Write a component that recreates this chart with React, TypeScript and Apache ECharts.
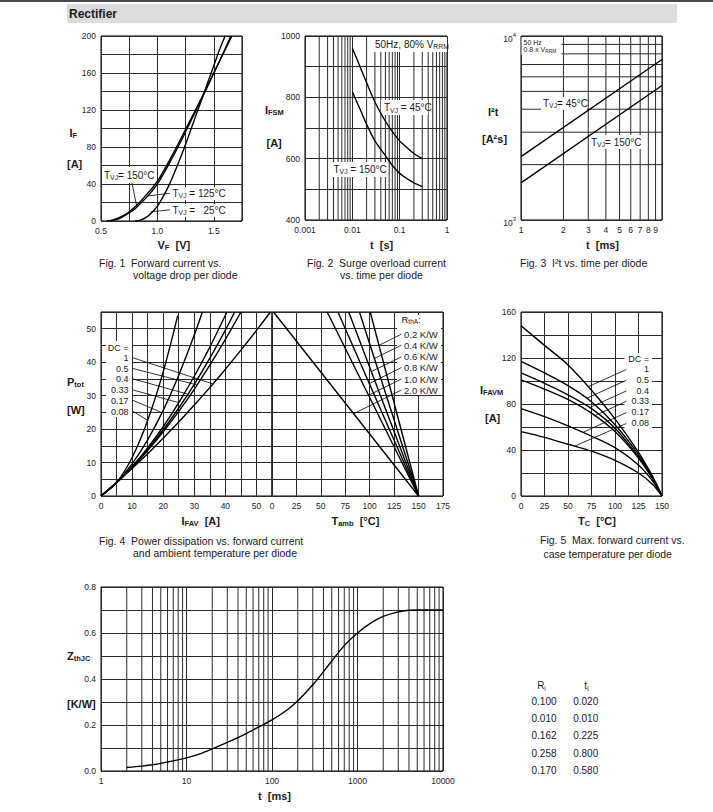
import React, { useEffect, useRef } from 'react';
import * as echarts from 'echarts';

const FONT = '"Liberation Sans", Arial, Helvetica, sans-serif';
const INK = '#1a1a1a';
const GRID = '#2a2a2a';
const NB = '\u00a0';

// ---------- Fig 1: forward current vs. voltage drop ----------
const f1T150 = [[0.55,0],[0.6,1],[0.65,3],[0.7,6],[0.75,10],[0.8,15],[0.85,21],[0.9,28],[0.95,35],[1.0,43],[1.1,64],[1.2,87],[1.3,111],[1.4,135],[1.5,160],[1.6,185],[1.66,200]];
const f1T125 = [[0.58,0],[0.65,2],[0.7,5],[0.75,9],[0.8,13],[0.85,19],[0.9,25],[0.95,32],[1.0,40],[1.1,61],[1.2,84],[1.3,109],[1.4,134],[1.5,160],[1.6,186],[1.65,200]];
const f1T25 = [[0.8,0],[0.85,1],[0.9,4],[0.95,9],[1.0,16],[1.05,26],[1.1,38],[1.15,52],[1.2,67],[1.25,83],[1.3,100],[1.35,117],[1.4,134],[1.45,151],[1.5,168],[1.55,185],[1.6,200]];
const f1Leaders = [
  [[0.775, 41], [0.815, 17]],
  [[1.11, 30], [0.915, 27]],
  [[1.11, 12], [0.94, 10]],
];

// ---------- Fig 2: surge overload current ----------
const f2T45 = [[0.01,960],[0.015,895],[0.02,848],[0.03,785],[0.05,722],[0.07,688],[0.1,658],[0.15,633],[0.2,617],[0.3,600]];
const f2T150 = [[0.01,818],[0.015,757],[0.02,712],[0.03,658],[0.05,610],[0.07,578],[0.1,552],[0.15,533],[0.2,521],[0.3,509]];
const f2MinorT = [0.002,0.003,0.004,0.005,0.006,0.007,0.008,0.009,0.02,0.03,0.04,0.05,0.06,0.07,0.08,0.09,0.2,0.3,0.4,0.5,0.6,0.7,0.8,0.9];

// ---------- Fig 3: I2t vs. time ----------
const f3T45 = [[1,2210],[10,7450]];
const f3T150 = [[1,1590],[10,5380]];
const f3MinorT = [2,3,4,5,6,7,8,9];
const f3MinorI = [2000,3000,4000,5000,6000,7000,8000,9000];
const f3TickLabels = [1,2,3,4,5,6,7,8,9];

// ---------- Fig 4: power dissipation ----------
const f4DutyLabels = ['1','0.5','0.4','0.33','0.17','0.08'];
const f4Ptot = [
  [[0,0],[5,4],[10,8.2],[15,12.6],[20,17.3],[25,22.1],[30,27.2],[35,32.4],[40,37.9],[45,43.6],[50,49.5],[54.5,55]],
  [[0,0],[5,4],[10,8.5],[15,13.6],[20,19.2],[25,25.3],[30,31.9],[35,39.1],[40,46.8],[45,55]],
  [[0,0],[5,4],[10,8.6],[15,13.9],[20,19.8],[25,26.3],[30,33.4],[35,41.2],[40,49.6],[43,55]],
  [[0,0],[5,4],[10,8.8],[15,14.4],[20,20.7],[25,27.9],[30,35.8],[35,44.5],[40.5,55]],
  [[0,0],[5,4],[10,9.6],[15,16.8],[20,25.6],[25,36.1],[30,48.1],[32.6,55]],
  [[0,0],[5,4],[10,11.5],[15,22.6],[20,37.1],[24.7,54]],
];
const f4DutyLeaders = [
  [[10.3,41.3],[36,33.5]],
  [[10.3,38.1],[30.9,33.2]],
  [[10.3,35.0],[27.7,30.5]],
  [[10.3,31.7],[25,27.9]],
  [[10.3,28.6],[19.6,24.9]],
  [[10.3,25.3],[15,22.6]],
];
const f4RthLabels = ['0.2 K/W','0.4 K/W','0.6 K/W','0.8 K/W','1.0 K/W','2.0 K/W'];
const f4RthLines = [
  [[150,0],[100.5,55]],
  [[150,0],[89.5,55]],
  [[150,0],[78.5,55]],
  [[150,0],[67.5,55]],
  [[150,0],[56.5,55]],
  [[150,0],[1.5,55]],
];
const f4RthLeaders = [
  [[132.5,48.4],[109.4,45.0]],
  [[132.5,45.1],[104.7,41.1]],
  [[132.5,41.6],[101.7,37.2]],
  [[132.5,38.4],[99.6,33.6]],
  [[132.5,35.0],[98.8,30.1]],
  [[132.5,31.7],[83.6,24.6]],
];

// ---------- Fig 5: max forward current vs case temperature ----------
const f5Curves = [
  [[0,148],[25,131],[50,114],[75,92],[100,67],[125,38],[140,17],[150,0]],
  [[0,117],[25,107],[50,96],[75,82],[100,62],[125,36],[140,16],[150,0]],
  [[0,107],[25,98],[50,88],[75,76],[100,59],[125,34],[140,15],[150,0]],
  [[0,101],[25,93],[50,84],[75,72],[100,56],[125,33],[140,15],[150,0]],
  [[0,76],[25,69],[50,61],[75,52],[100,42],[125,27],[140,13],[150,0]],
  [[0,56],[25,51],[50,45],[75,39],[100,31],[125,20],[140,10],[150,0]],
];
const f5Leaders = [
  [[112,110],[72,95.2]],
  [[112,100.6],[70,85]],
  [[112,91.3],[73,76.9]],
  [[112,82.3],[77.5,69.5]],
  [[112,72.5],[66,55.4]],
  [[112,63],[57,43.3]],
];

// ---------- Fig 6: transient thermal impedance ----------
const f6Zth = [[2,0.015],[3,0.021],[4,0.027],[5,0.033],[7,0.044],[10,0.057],[15,0.077],[20,0.096],[30,0.124],[50,0.163],[70,0.192],[100,0.222],[150,0.265],[200,0.305],[300,0.375],[400,0.432],[500,0.478],[700,0.545],[1000,0.6],[1500,0.648],[2000,0.672],[3000,0.692],[4000,0.699],[5000,0.7],[10000,0.7]];
const f6MinorT = [2,3,4,5,6,7,8,9,20,30,40,50,60,70,80,90,200,300,400,500,600,700,800,900,2000,3000,4000,5000,6000,7000,8000,9000];
const tableRi = ['0.100','0.010','0.162','0.258','0.170'];
const tableTi = ['0.020','0.010','0.225','0.800','0.580'];

// ---------- helpers ----------
const every = (step: number, dec = 0) => (v: number) =>
  Math.abs(v / step - Math.round(v / step)) < 1e-6 ? v.toFixed(dec) : '';

const labelBase = { fontSize: 8.5, color: '#222', fontFamily: FONT, margin: 5, showMinLabel: true, showMaxLabel: true };
const splitBase = { show: true, lineStyle: { color: GRID, width: 1 } };

function valAxis(gi: number, min: number, max: number, interval: number, formatter: any) {
  return {
    type: 'value', gridIndex: gi, min, max, interval,
    axisLine: { show: false }, axisTick: { show: false },
    splitLine: splitBase,
    axisLabel: { ...labelBase, formatter },
  };
}
function logAxis(gi: number, min: number, max: number, label: any = {}) {
  return {
    type: 'log', logBase: 10, gridIndex: gi, min, max,
    axisLine: { show: false }, axisTick: { show: false },
    splitLine: splitBase,
    minorSplitLine: { show: false },
    axisLabel: { ...labelBase, ...label },
  };
}
function grid(left: number, top: number, width: number, height: number) {
  return { left, top, width, height, show: true, borderColor: '#000', borderWidth: 1, backgroundColor: 'transparent', containLabel: false, outerBoundsMode: 'none' };
}

function pt(x: number, y: number, text: string, fs: number, bold = false, align = 'left') {
  return {
    type: 'text', x, y, z: 10, silent: true,
    style: { text, fontSize: fs, fontWeight: bold ? 'bold' : 'normal', fontFamily: FONT, fill: INK, align, verticalAlign: 'middle' },
  };
}
function rt(x: number, y: number, main: string, sub: string, rest: string, fs: number, bold = false, align = 'left') {
  const w = bold ? 'bold' : 'normal';
  const sfs = fs * 0.68;
  const m = { fontSize: fs, fontWeight: w, fontFamily: FONT, fill: INK, lineHeight: fs, verticalAlign: 'top' };
  const s = { fontSize: sfs, fontWeight: w, fontFamily: FONT, fill: INK, lineHeight: sfs, padding: [fs * 0.42, 0, 0, 0], verticalAlign: 'top' };
  const text = `{m|${main}}{s|${sub}}` + (rest ? `{m|${rest}}` : '');
  return {
    type: 'text', x, y: y - fs * 0.5, z: 10, silent: true,
    style: { text, rich: { m, s }, align, verticalAlign: 'top', fontSize: fs, fontFamily: FONT, fill: INK },
  };
}
function box(x: number, y: number, w: number, h: number) {
  return { type: 'rect', z: 3, silent: true, shape: { x, y, width: w, height: h }, style: { fill: '#fff' } };
}

function buildOption() {
  const series: any[] = [];
  const add = (gi: number, data: any, o: any = {}) =>
    series.push({
      type: 'line', xAxisIndex: gi, yAxisIndex: gi, data, symbol: 'none', silent: true, animation: false,
      z: o.z ?? 5, smooth: o.smooth ?? false,
      lineStyle: { color: o.color ?? '#000', width: o.width ?? 1.4 },
    });
  const gridLine = (gi: number, data: any) => add(gi, data, { z: 1, color: GRID, width: 1 });
  const leader = (gi: number, data: any) => add(gi, data, { z: 6, width: 0.8 });

  // Fig 1
  [f1T150, f1T125, f1T25].forEach((d) => add(0, d, { smooth: 0.3 }));
  f1Leaders.forEach((d) => leader(0, d));
  // Fig 2
  f2MinorT.forEach((t) => gridLine(1, [[t, 400], [t, 1000]]));
  [f2T45, f2T150].forEach((d) => add(1, d, { smooth: 0.3 }));
  // Fig 3
  f3MinorT.forEach((t) => gridLine(2, [[t, 1000], [t, 10000]]));
  f3MinorI.forEach((v) => gridLine(2, [[1, v], [10, v]]));
  [f3T45, f3T150].forEach((d) => add(2, d));
  // Fig 4
  f4Ptot.forEach((d) => add(3, d, { smooth: 0.3 }));
  f4DutyLeaders.forEach((d) => leader(3, d));
  f4RthLines.forEach((d) => add(4, d));
  f4RthLeaders.forEach((d) => leader(4, d));
  // Fig 5
  f5Curves.forEach((d) => add(5, d, { smooth: 0.3 }));
  f5Leaders.forEach((d) => leader(5, d));
  // Fig 6
  f6MinorT.forEach((t) => gridLine(6, [[t, 0], [t, 0.8]]));
  add(6, f6Zth, { smooth: 0.3 });

  const grids = [
    grid(101, 36, 141, 185),
    grid(305, 36, 142, 184),
    grid(521, 36, 141, 184),
    grid(101, 312, 171, 184),
    grid(272, 312, 171, 184),
    grid(521, 312, 141, 184),
    grid(101, 587, 342, 184),
  ];

  const plain = (v: number) => String(Math.round(v));
  const xAxis = [
    valAxis(0, 0.5, 1.75, 0.25, every(0.5, 1)),
    logAxis(1, 0.001, 1, { formatter: (v: number) => String(parseFloat(v.toPrecision(3))) }),
    logAxis(2, 1, 10, { customValues: f3TickLabels, formatter: plain }),
    valAxis(3, 0, 55, 5, every(10)),
    valAxis(4, 0, 175, 25, every(25)),
    valAxis(5, 0, 150, 25, every(25)),
    logAxis(6, 1, 10000, { formatter: plain }),
  ];
  const yAxis = [
    valAxis(0, 0, 200, 20, every(40)),
    valAxis(1, 400, 1000, 100, every(200)),
    logAxis(2, 1000, 10000, {
      formatter: (v: number) => (v > 5000 ? '{b|10}{p|4}' : '{b|10}{p|3}'),
      rich: {
        b: { fontSize: 8.5, fontFamily: FONT, color: '#222', lineHeight: 9, padding: [3, 0, 0, 0], verticalAlign: 'top' },
        p: { fontSize: 6, fontFamily: FONT, color: '#222', lineHeight: 6, verticalAlign: 'top' },
      },
    }),
    valAxis(3, 0, 55, 5, every(10)),
    { ...valAxis(4, 0, 55, 5, () => ''), axisLabel: { show: false } },
    valAxis(5, 0, 160, 20, every(40)),
    valAxis(6, 0, 0.8, 0.1, every(0.2, 1)),
  ];

  const cap = 10.5;
  const ax = 11;
  const g: any[] = [
    // header
    { type: 'rect', z: 2, silent: true, shape: { x: 0, y: 0, width: 713, height: 2 }, style: { fill: '#4a4a4a' } },
    { type: 'rect', z: 2, silent: true, shape: { x: 67, y: 4, width: 610, height: 19 }, style: { fill: '#dcdcdc' } },
    pt(69, 13.5, 'Rectifier', 12, true),

    // Fig 1
    rt(69.5, 132.5, 'I', 'F', '', ax, true),
    pt(67, 164, '[A]', ax, true),
    rt(157.5, 245, 'V', 'F', `${NB}${NB}[V]`, ax, true),
    pt(99, 263, `Fig. 1${NB}${NB}Forward current vs.`, cap),
    pt(133, 275, 'voltage drop per diode', cap),
    box(102, 167, 54, 16), box(170, 187, 55, 13), box(170, 204, 55, 13),
    rt(104, 175, 'T', 'VJ', '= 150°C', 10),
    rt(172.5, 193, 'T', 'VJ', ' = 125°C', 10),
    rt(172.5, 210, 'T', 'VJ', ` =${NB}${NB}${NB}25°C`, 10),

    // Fig 2
    rt(265, 109.5, 'I', 'FSM', '', ax, true),
    pt(266.5, 143, '[A]', ax, true),
    pt(370, 245, `t${NB}${NB}[s]`, ax, true),
    pt(307, 263, `Fig. 2${NB}${NB}Surge overload current`, cap),
    pt(340, 275, 'vs. time per diode', cap),
    box(372, 37, 75, 15), box(381, 100, 47, 15), box(331, 162, 56, 15),
    rt(375, 44, '50Hz, 80% V', 'RRM', '', 10),
    rt(384, 107.5, 'T', 'VJ', ' = 45°C', 10),
    rt(333.5, 169, 'T', 'VJ', ' = 150°C', 10),

    // Fig 3
    pt(488, 111.5, 'I²t', ax, true),
    pt(482, 139, '[A²s]', ax, true),
    pt(586, 245, `t${NB}${NB}[ms]`, ax, true),
    pt(520, 263, `Fig. 3${NB}${NB}I²t vs. time per diode`, cap),
    box(521.5, 37, 40, 18),
    pt(523.5, 42.5, '50 Hz', 7),
    rt(523.5, 49.5, '0.8 x V', 'RRM', '', 7),
    box(541, 97, 46, 13), box(589, 135, 52, 14),
    rt(543, 103, 'T', 'VJ', '= 45°C', 10),
    rt(591, 142, 'T', 'VJ', '= 150°C', 10),

    // Fig 4
    rt(67, 381.5, 'P', 'tot', '', ax, true),
    pt(67, 409.5, '[W]', ax, true),
    rt(181.5, 521, 'I', 'FAV', `${NB}${NB}[A]`, ax, true),
    rt(331.5, 521, 'T', 'amb', `${NB}${NB}[°C]`, ax, true),
    pt(99, 541, `Fig. 4${NB}${NB}Power dissipation vs. forward current`, cap),
    pt(133, 553, 'and ambient temperature per diode', cap),
    box(106, 341, 26, 76),
    pt(128.5, 347.7, 'DC =', 9, false, 'right'),
    box(397, 315, 44, 80),
    rt(401.5, 319.5, 'R', 'thA', ':', 9.5),

    // Fig 5
    rt(480, 390, 'I', 'FAVM', '', ax, true),
    pt(485, 418, '[A]', ax, true),
    rt(578, 521, 'T', 'C', `${NB}${NB}[°C]`, ax, true),
    pt(540, 540, `Fig. 5${NB}${NB}Max. forward current vs.`, cap),
    pt(543.5, 554, 'case temperature per diode', cap),
    box(624.5, 353, 27.5, 76),
    pt(649, 359.3, 'DC =', 9, false, 'right'),

    // Fig 6
    rt(67, 656, 'Z', 'thJC', '', ax, true),
    pt(67, 704, '[K/W]', ax, true),
    pt(258, 795.5, `t${NB}${NB}[ms]`, ax, true),
    rt(541.5, 685.5, 'R', 'i', '', 10, false, 'center'),
    rt(586.5, 685.5, 't', 'i', '', 10, false, 'center'),
  ];
  const f4Ys = [358, 368.5, 379, 390, 400.5, 411.5];
  f4DutyLabels.forEach((t, i) => g.push(pt(128.5, f4Ys[i], t, 9, false, 'right')));
  const f4RY = [334, 345, 356.7, 367.7, 379, 390];
  f4RthLabels.forEach((t, i) => g.push(pt(404, f4RY[i], t, 9.5)));
  const f5Ys = [369.3, 380, 390.7, 401, 412.3, 423.3];
  f4DutyLabels.forEach((t, i) => g.push(pt(649, f5Ys[i], t, 9, false, 'right')));
  tableRi.forEach((t, i) => {
    g.push(pt(544, 701.7 + 17.1 * i, t, 10, false, 'center'));
    g.push(pt(585.7, 701.7 + 17.1 * i, tableTi[i], 10, false, 'center'));
  });

  return {
    animation: false,
    backgroundColor: '#fff',
    textStyle: { fontFamily: FONT },
    grid: grids,
    xAxis,
    yAxis,
    series,
    graphic: { elements: g },
  };
}

export default function App() {
  const ref = useRef<HTMLDivElement>(null);
  useEffect(() => {
    const chart = echarts.init(ref.current as HTMLDivElement, null, { renderer: 'svg' });
    chart.setOption(buildOption() as any);
    return () => chart.dispose();
  }, []);
  return <div ref={ref} style={{ position: 'absolute', left: 0, top: 0, width: 713, height: 812, background: '#fff' }} />;
}
